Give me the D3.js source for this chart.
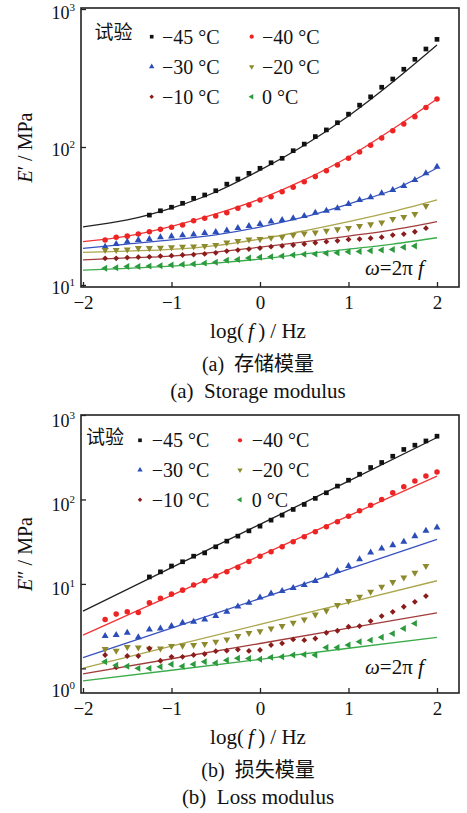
<!DOCTYPE html>
<html>
<head>
<meta charset="utf-8">
<script src="https://cdn.jsdelivr.net/npm/d3@7"></script>
<style>
  body { margin: 0; background: #fff; }
  svg text { font-family: "Liberation Serif", "Times New Roman", serif; fill: #111; white-space: pre; }
  svg .cjk { font-family: "Noto Sans CJK SC", sans-serif; }
</style>
</head>
<body>
<script>
// measured frequencies, log10(f / Hz)
var LOG_F = [-1.75, -1.625, -1.5, -1.375, -1.25, -1.125, -1, -0.875, -0.75, -0.625, -0.5,
  -0.375, -0.25, -0.125, 0, 0.125, 0.25, 0.375, 0.5, 0.625, 0.75, 0.875, 1,
  1.125, 1.25, 1.375, 1.5, 1.625, 1.75, 1.875, 2];
var FIT_F_A = [-2, -1.5, -1, -0.5, 0, 0.5, 1, 1.5, 2];
var FIT_F_B = [-2, -1, 0, 1, 2];
var X_TICKS = [-2, -1, 0, 1, 2];
var TEMPS = ["\u221245 \u00b0C", "\u221240 \u00b0C", "\u221230 \u00b0C", "\u221220 \u00b0C", "\u221210 \u00b0C", "0 \u00b0C"];

// (a) storage modulus E' / MPa, test points
var STORAGE_45 = [null, null, null, null, 32.1, 34.5, 36.6, 39.1, 42.5, 44.9, 48.2, 53.8, 58.6, 64.4, 70.1, 76.9,
  82.8, 94.0, 105, 119, 133, 150, 173, 201, 231, 271, 311, 366, 432, 513, 603];
var STORAGE_40 = [21.2, 22.2, 22.6, 23.4, 24.3, 25.3, 26.2, 27.2, 29.2, 30.4, 31.6, 33.4, 36.0, 38.0, 41.3, 43.6,
  47.4, 51.1, 56.1, 61.0, 67.3, 74.1, 82.8, 92.0, 103, 116, 131, 147, 166, 193, 223];
var STORAGE_30 = [18.95, 19.8, 20.6, 21.2, 21.5, 22.2, 22.5, 22.9, 23.2, 23.8, 24.2, 24.8, 25.9, 26.8, 27.7, 28.8,
  29.6, 30.4, 31.6, 33.4, 34.5, 36.0, 38.6, 41.3, 43.2, 46.2, 48.8, 52.2, 57.7, 64.5, 72.0];
var STORAGE_20 = [17.9, 17.9, 18.1, 18.5, 18.5, 18.6, 18.75, 18.95, 19.0, 19.2, 19.5, 20.3, 20.8, 21.4, 21.5, 22.0,
  22.3, 23.0, 23.6, 24.0, 24.7, 25.3, 25.9, 26.8, 27.5, 28.4, 30.1, 31.1, 32.7, 37.4, null];
var STORAGE_10 = [15.6, 15.6, 15.8, 15.9, 16.0, 16.2, 16.3, 16.5, 16.6, 16.8, 17.1, 17.6, 17.9, 18.2, 18.5, 18.95,
  19.2, 19.5, 19.8, 20.2, 20.6, 20.9, 21.4, 21.5, 21.8, 22.2, 23.0, 23.4, 24.3, 25.8, null];
var STORAGE_0 = [13.2, 13.35, 13.6, 13.6, 13.7, 13.8, 13.95, 14.1, 14.2, 14.4, 14.6, 15.1, 15.3, 15.7, 15.9, 16.0,
  16.2, 16.5, 16.7, 16.8, 17.0, 17.1, 17.4, 17.5, 17.7, 17.9, 18.1, 18.75, 19.2, null, null];

// (a) fitted curves at FIT_F_A
var STORAGE_FIT_45 = [26.4, 29.6, 36.1, 47.2, 68.0, 103, 168, 296, 548];
var STORAGE_FIT_40 = [20.6, 22.6, 26.6, 32.7, 42.0, 57.7, 84.7, 135, 223];
var STORAGE_FIT_30 = [18.4, 19.8, 21.2, 23.1, 26.3, 31.1, 38.6, 48.8, 70.4];
var STORAGE_FIT_20 = [17.2, 17.6, 18.1, 19.3, 21.5, 24.7, 28.8, 34.0, 41.3];
var STORAGE_FIT_10 = [15.2, 15.7, 16.2, 17.3, 18.8, 20.5, 22.6, 25.1, 28.8];
var STORAGE_FIT_0 = [12.8, 13.2, 13.7, 14.4, 15.4, 16.8, 18.2, 19.8, 22.0];

// (b) loss modulus E'' / MPa, test points
var LOSS_45 = [null, null, null, null, 12.1, 13.9, 16.3, 18.3, 21.3, 23.3, 27.5, 32.1, 36.8, 42.5, 48.3, 56.9,
  65.2, 76.2, 87.3, 103, 120, 144, 169, 199, 239, 274, 325, 391, 439, 493, 561];
var LOSS_40 = [3.80, 4.39, 4.67, 4.60, 5.97, 6.74, 7.57, 8.44, 9.68, 10.9, 12.4, 13.9, 15.7, 18.4, 21.3, 24.0,
  27.5, 31.5, 36.1, 41.4, 47.4, 54.3, 63.4, 73.3, 85.6, 100, 120, 141, 165, 190, 212];
var LOSS_30 = [2.41, 2.48, 2.64, 2.33, 2.89, 2.97, 3.17, 3.47, 3.56, 3.80, 4.16, 4.67, 5.39, 5.97, 6.92, 7.72,
  8.22, 8.92, 9.68, 10.8, 12.5, 14.2, 16.3, 19.6, 23.5, 26.3, 28.8, 31.5, 36.8, 42.5, 46.6];
var LOSS_20 = [1.69, 1.62, 1.79, 1.77, 1.71, 1.72, 1.84, 1.86, 1.89, 1.94, 2.07, 2.20, 2.41, 2.62, 2.76, 2.96,
  3.17, 3.47, 3.80, 4.33, 4.83, 5.61, 6.26, 7.04, 8.06, 9.25, 10.5, 11.9, 13.6, 16.3, null];
var LOSS_10 = [1.44, 1.03, 1.40, 1.40, 1.72, 1.23, 1.37, 1.37, 1.44, 1.48, 1.60, 1.62, 1.67, 1.61, 1.65, 1.89,
  1.98, 2.20, 2.16, 2.26, 2.64, 2.79, 3.11, 3.17, 3.63, 4.16, 4.67, 5.36, 6.14, 7.17, null];
var LOSS_0 = [1.20, 1.09, 1.06, 1.00, 1.00, 1.045, 1.12, 1.06, 1.12, 1.20, 1.16, 1.25, 1.32, 1.31, 1.28, 1.35,
  1.37, 1.44, 1.46, 1.44, 1.77, 1.77, 1.89, 2.07, 2.16, 2.33, 2.58, 2.97, 3.41, null, null];

// (b) fitted lines at FIT_F_B
var LOSS_FIT_45 = [4.77, 15.6, 50.8, 165, 542];
var LOSS_FIT_40 = [2.48, 7.32, 21.6, 63.9, 189];
var LOSS_FIT_30 = [1.34, 3.0, 6.71, 15.0, 33.6];
var LOSS_FIT_20 = [1.01, 1.83, 3.31, 6.01, 10.9];
var LOSS_FIT_10 = [0.86, 1.30, 1.97, 2.99, 4.55];
var LOSS_FIT_0 = [0.71, 0.95, 1.28, 1.73, 2.33];

var MARK_COLORS = ["#111111", "#ee2424", "#2a4db8", "#8c8a2c", "#8a1c1c", "#2a9a3c"];
var LINE_COLORS = ["#222222", "#f23434", "#3852c0", "#aba64c", "#a23c3c", "#3aac4a"];
var SYMBOLS = [d3.symbolSquare, d3.symbolCircle, d3.symbolTriangle, d3.symbolTriangle, d3.symbolSquare, d3.symbolTriangle];
var SYM_ROT = [0, 0, 0, 180, 45, -90];
var SYM_SIZE = [22, 24, 21, 21, 17, 21];

var SERIF = "'Liberation Serif', 'Times New Roman', serif";
var W = 467, H = 813;
var svg = d3.select("body").append("svg").attr("width", W).attr("height", H);

var x = d3.scaleLinear().domain([-2.0226, 2.2486]).range([81, 459]);

var panels = [
  {
    top: 8, bottom: 287, yDomain: [9.67, 1017], yTicks: [10, 100, 1000], labelDy: 9, labelShift: {},
    points: [STORAGE_45, STORAGE_40, STORAGE_30, STORAGE_20, STORAGE_10, STORAGE_0],
    fitF: FIT_F_A,
    fits: [STORAGE_FIT_45, STORAGE_FIT_40, STORAGE_FIT_30, STORAGE_FIT_20, STORAGE_FIT_10, STORAGE_FIT_0],
    curve: d3.curveMonotoneX,
    yPrime: "\u2032", cap1: "(a)  \u5b58\u50a8\u6a21\u91cf", cap2: "(a)  Storage modulus",
    legend: {head: 94.5, headY: 30.7, mark: 151.7, text: 162, row0: 28.7, rowStep: 30},
    omegaY: -12
  },
  {
    top: 415, bottom: 693, yDomain: [0.511, 1000], yTicks: [1, 10, 100, 1000], labelDy: 11, labelShift: {1: 17},
    points: [LOSS_45, LOSS_40, LOSS_30, LOSS_20, LOSS_10, LOSS_0],
    fitF: FIT_F_B,
    fits: [LOSS_FIT_45, LOSS_FIT_40, LOSS_FIT_30, LOSS_FIT_20, LOSS_FIT_10, LOSS_FIT_0],
    curve: d3.curveLinear,
    yPrime: "\u2033", cap1: "(b)  \u635f\u5931\u6a21\u91cf", cap2: "(b)  Loss modulus",
    legend: {head: 86, headY: 28.5, mark: 140, text: 151.7, row0: 25.3, rowStep: 29.7},
    omegaY: -19
  }
];

function marker(g, i, cx, cy, scale) {
  g.append("path")
    .attr("d", d3.symbol().type(SYMBOLS[i]).size(SYM_SIZE[i] * scale)())
    .attr("transform", "translate(" + cx + "," + cy + ") rotate(" + SYM_ROT[i] + ")")
    .attr("fill", MARK_COLORS[i]);
}

panels.forEach(function(p) {
  var g = svg.append("g");
  var y = d3.scaleLog().domain(p.yDomain).range([p.bottom, p.top]);

  // fitted curves
  var line = d3.line()
    .x(function(d) { return x(d[0]); })
    .y(function(d) { return y(d[1]); })
    .curve(p.curve);
  p.fits.forEach(function(vals, i) {
    var pts = p.fitF.map(function(f, k) { return [f, vals[k]]; });
    g.append("path").attr("d", line(pts))
      .attr("fill", "none").attr("stroke", LINE_COLORS[i]).attr("stroke-width", 1.3);
  });

  // test points
  p.points.forEach(function(vals, i) {
    var sg = g.append("g");
    LOG_F.forEach(function(f, k) {
      if (vals[k] == null) return;
      marker(sg, i, x(f), y(vals[k]), 1);
    });
  });

  // frame
  g.append("rect")
    .attr("x", x.range()[0]).attr("y", p.top)
    .attr("width", x.range()[1] - x.range()[0]).attr("height", p.bottom - p.top)
    .attr("fill", "none").attr("stroke", "#222").attr("stroke-width", 1.6);

  // x axis
  var xa = g.append("g").attr("transform", "translate(0," + p.bottom + ")")
    .call(d3.axisBottom(x).tickValues(X_TICKS).tickFormat(d3.format("d"))
      .tickSizeInner(-5).tickSizeOuter(0).tickPadding(9))
    .attr("font-family", SERIF);
  xa.select(".domain").remove();
  xa.selectAll(".tick line").attr("stroke", "#222").attr("stroke-width", 1.3);
  xa.selectAll(".tick text").style("font-size", "19px").attr("fill", "#111");

  // y axis
  var ya = g.append("g").attr("transform", "translate(" + x.range()[0] + ",0)")
    .call(d3.axisLeft(y).tickValues(p.yTicks).tickSizeInner(-5).tickSizeOuter(0).tickPadding(6)
      .tickFormat(function() { return ""; }))
    .attr("font-family", SERIF);
  ya.select(".domain").remove();
  ya.selectAll(".tick line").attr("stroke", "#222").attr("stroke-width", 1.3);
  ya.selectAll(".tick text").each(function(d) {
    var t = d3.select(this).attr("dy", null).attr("fill", "#111").style("font-size", "18px")
      .attr("y", p.labelDy + (p.labelShift[d] || 0)).text("10");
    t.append("tspan").attr("dy", -8).style("font-size", "11px").text(Math.round(Math.log10(d)));
  });

  // y title
  var yc = (p.top + p.bottom) / 2;
  var yt = g.append("text")
    .attr("transform", "translate(32," + yc + ") rotate(-90)")
    .attr("text-anchor", "middle").style("font-size", "20px");
  yt.append("tspan").style("font-style", "italic").text("E");
  yt.append("tspan").text(p.yPrime + " / MPa");

  // x title and captions
  var xt = g.append("text").attr("x", 258).attr("y", p.bottom + 51)
    .attr("text-anchor", "middle").style("font-size", "21px");
  xt.append("tspan").text("log(");
  xt.append("tspan").style("font-style", "italic").text("\u2009f\u2009");
  xt.append("tspan").text(") / Hz");

  var c1 = g.append("text").attr("x", 258).attr("y", p.bottom + 83.5)
    .attr("text-anchor", "middle").style("font-size", "20px");
  c1.append("tspan").text(p.cap1.slice(0, 5));
  c1.append("tspan").attr("class", "cjk").text(p.cap1.slice(5));

  g.append("text").attr("x", 258).attr("y", p.bottom + 110.5)
    .attr("text-anchor", "middle").style("font-size", "21px").text(p.cap2);

  // omega note
  var om = g.append("text").attr("x", 365).attr("y", p.bottom + p.omegaY).style("font-size", "21px");
  om.append("tspan").style("font-style", "italic").text("\u03c9");
  om.append("tspan").text("=2\u03c0 ");
  om.append("tspan").style("font-style", "italic").text("f");

  // legend
  var L = p.legend;
  g.append("text").attr("class", "cjk").attr("x", L.head).attr("y", p.top + L.headY)
    .style("font-size", "19px").text("\u8bd5\u9a8c");
  TEMPS.forEach(function(name, i) {
    var col = i % 2, row = Math.floor(i / 2);
    var cy = p.top + L.row0 + row * L.rowStep;
    marker(g, i, L.mark + col * 100, cy, 0.6);
    g.append("text").attr("x", L.text + col * 100).attr("y", cy + 6.8)
      .style("font-size", "20px").text(name);
  });
});
</script>
</body>
</html>
